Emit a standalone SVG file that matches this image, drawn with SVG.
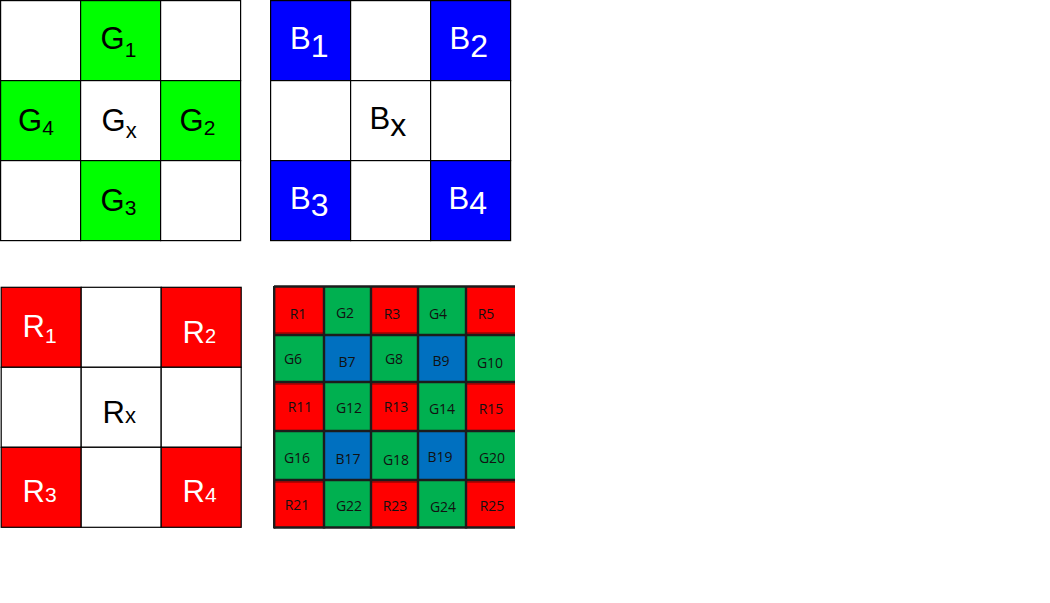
<svg xmlns="http://www.w3.org/2000/svg" width="1050" height="603" viewBox="0 0 1050 603">
<style>
.g{fill:#00FF00}.b{fill:#0000FF}.r{fill:#FF0000}.w{fill:#FFFFFF}
.cell{stroke:#000;stroke-width:1.2}
.lbl{font-family:"Liberation Sans",Arial,sans-serif;font-size:31px}
.dk{fill:#000}.lt{fill:#fff}
.bl{stroke:#1c1c1c;stroke-width:2.4;fill:none}
.bt{font-family:"Open Sans","Noto Sans",sans-serif;font-size:14px;fill:#111;text-anchor:middle}
.rR{fill:#FF0000}.gG{fill:#00B050}.bB{fill:#0070C0}
</style>
<rect x="0" y="0" width="1050" height="603" fill="#fff"/>

<g id="green-panel">
  <g id="g-c00"><rect class="cell w" x="0.6" y="0.6" width="80" height="80"/></g>
  <g id="g-c01"><rect class="cell g" x="80.6" y="0.6" width="80" height="80"/><text class="lbl dk" x="100.5" y="49">G<tspan font-size="21" dy="8">1</tspan></text></g>
  <g id="g-c02"><rect class="cell w" x="160.6" y="0.6" width="80" height="80"/></g>
  <g id="g-c10"><rect class="cell g" x="0.6" y="80.6" width="80" height="80"/><text class="lbl dk" x="18" y="131">G<tspan font-size="21" dy="4">4</tspan></text></g>
  <g id="g-c11"><rect class="cell w" x="80.6" y="80.6" width="80" height="80"/><text class="lbl dk" x="101.5" y="131">G<tspan font-size="22" dy="7">x</tspan></text></g>
  <g id="g-c12"><rect class="cell g" x="160.6" y="80.6" width="80" height="80"/><text class="lbl dk" x="179.5" y="131">G<tspan font-size="21" dy="4">2</tspan></text></g>
  <g id="g-c20"><rect class="cell w" x="0.6" y="160.6" width="80" height="80"/></g>
  <g id="g-c21"><rect class="cell g" x="80.6" y="160.6" width="80" height="80"/><text class="lbl dk" x="100.5" y="211">G<tspan font-size="21" dy="4">3</tspan></text></g>
  <g id="g-c22"><rect class="cell w" x="160.6" y="160.6" width="80" height="80"/></g>
</g>

<g id="blue-panel">
  <g id="b-c00"><rect class="cell b" x="270.6" y="0.6" width="80" height="80"/><text class="lbl lt" x="290" y="48.5">B<tspan font-size="32" dy="8">1</tspan></text></g>
  <g id="b-c01"><rect class="cell w" x="350.6" y="0.6" width="80" height="80"/></g>
  <g id="b-c02"><rect class="cell b" x="430.6" y="0.6" width="80" height="80"/><text class="lbl lt" x="449.5" y="48.5">B<tspan font-size="32" dy="8">2</tspan></text></g>
  <g id="b-c10"><rect class="cell w" x="270.6" y="80.6" width="80" height="80"/></g>
  <g id="b-c11"><rect class="cell w" x="350.6" y="80.6" width="80" height="80"/><text class="lbl dk" x="369.5" y="129.3">B<tspan font-size="32" dy="6.4">x</tspan></text></g>
  <g id="b-c12"><rect class="cell w" x="430.6" y="80.6" width="80" height="80"/></g>
  <g id="b-c20"><rect class="cell b" x="270.6" y="160.6" width="80" height="80"/><text class="lbl lt" x="290" y="208.5">B<tspan font-size="32" dy="7">3</tspan></text></g>
  <g id="b-c21"><rect class="cell w" x="350.6" y="160.6" width="80" height="80"/></g>
  <g id="b-c22"><rect class="cell b" x="430.6" y="160.6" width="80" height="80"/><text class="lbl lt" x="448.5" y="208.5">B<tspan font-size="32" dy="5">4</tspan></text></g>
</g>

<g id="red-panel">
  <g id="r-c00"><rect class="cell r" x="1.2" y="287.3" width="80" height="80"/><text class="lbl lt" x="22.5" y="336.7">R<tspan font-size="21" dy="6.6">1</tspan></text></g>
  <g id="r-c01"><rect class="cell w" x="81.2" y="287.3" width="80" height="80"/></g>
  <g id="r-c02"><rect class="cell r" x="161.2" y="287.3" width="80" height="80"/><text class="lbl lt" x="182.5" y="342.7">R<tspan font-size="20">2</tspan></text></g>
  <g id="r-c10"><rect class="cell w" x="1.2" y="367.3" width="80" height="80"/></g>
  <g id="r-c11"><rect class="cell w" x="81.2" y="367.3" width="80" height="80"/><text class="lbl dk" x="102.5" y="423.3">R<tspan font-size="22">x</tspan></text></g>
  <g id="r-c12"><rect class="cell w" x="161.2" y="367.3" width="80" height="80"/></g>
  <g id="r-c20"><rect class="cell r" x="1.2" y="447.3" width="80" height="80"/><text class="lbl lt" x="22.5" y="501.7">R<tspan font-size="21">3</tspan></text></g>
  <g id="r-c21"><rect class="cell w" x="81.2" y="447.3" width="80" height="80"/></g>
  <g id="r-c22"><rect class="cell r" x="161.2" y="447.3" width="80" height="80"/><text class="lbl lt" x="182.5" y="501.7">R<tspan font-size="21">4</tspan></text></g>
</g>

<g id="bayer-panel">
  <g id="bayer-cells">
    <rect class="rR" x="274" y="286" width="50" height="49"/>
    <rect class="gG" x="324" y="286" width="47" height="49"/>
    <rect class="rR" x="371" y="286" width="47" height="49"/>
    <rect class="gG" x="418" y="286" width="48" height="49"/>
    <rect class="rR" x="466" y="286" width="49" height="49"/>
    <rect class="gG" x="274" y="335" width="50" height="47"/>
    <rect class="bB" x="324" y="335" width="47" height="47"/>
    <rect class="gG" x="371" y="335" width="47" height="47"/>
    <rect class="bB" x="418" y="335" width="48" height="47"/>
    <rect class="gG" x="466" y="335" width="49" height="47"/>
    <rect class="rR" x="274" y="382" width="50" height="49"/>
    <rect class="gG" x="324" y="382" width="47" height="49"/>
    <rect class="rR" x="371" y="382" width="47" height="49"/>
    <rect class="gG" x="418" y="382" width="48" height="49"/>
    <rect class="rR" x="466" y="382" width="49" height="49"/>
    <rect class="gG" x="274" y="431" width="50" height="49"/>
    <rect class="bB" x="324" y="431" width="47" height="49"/>
    <rect class="gG" x="371" y="431" width="47" height="49"/>
    <rect class="bB" x="418" y="431" width="48" height="49"/>
    <rect class="gG" x="466" y="431" width="49" height="49"/>
    <rect class="rR" x="274" y="480" width="50" height="48"/>
    <rect class="gG" x="324" y="480" width="47" height="48"/>
    <rect class="rR" x="371" y="480" width="47" height="48"/>
    <rect class="gG" x="418" y="480" width="48" height="48"/>
    <rect class="rR" x="466" y="480" width="49" height="48"/>
  </g>
  <g id="bayer-shade" fill="#B80000">
    <rect x="274" y="332" width="50" height="2"/>
    <rect x="371" y="332" width="47" height="2"/>
    <rect x="466" y="332" width="49" height="2"/>
    <rect x="274" y="383" width="50" height="2"/>
    <rect x="371" y="383" width="47" height="2"/>
    <rect x="466" y="383" width="49" height="2"/>
    <rect x="274" y="481" width="50" height="2"/>
    <rect x="371" y="481" width="47" height="2"/>
    <rect x="466" y="481" width="49" height="2"/>
  </g>
  <g id="bayer-lines" class="bl">
    <path d="M274,286.5H515M274,335H515M274,382H515M274,431H515M274,480H515M274,527.5H515"/>
    <path d="M274.2,286V528.5M324,286V528.5M371,286V528.5M418,286V528.5M466,286V528.5"/>
  </g>
  <g id="bayer-labels" class="bt">
    <text x="298" y="319">R1</text>
    <text x="345" y="318">G2</text>
    <text x="392" y="319">R3</text>
    <text x="438" y="319">G4</text>
    <text x="486" y="319">R5</text>
    <text x="293" y="364">G6</text>
    <text x="347" y="367">B7</text>
    <text x="394" y="364">G8</text>
    <text x="441" y="366">B9</text>
    <text x="490" y="368">G10</text>
    <text x="300" y="412">R11</text>
    <text x="349" y="413">G12</text>
    <text x="396" y="412">R13</text>
    <text x="442" y="414">G14</text>
    <text x="491" y="414">R15</text>
    <text x="297" y="463">G16</text>
    <text x="348" y="464">B17</text>
    <text x="396" y="465">G18</text>
    <text x="440" y="462">B19</text>
    <text x="492" y="463">G20</text>
    <text x="297" y="510">R21</text>
    <text x="349" y="511">G22</text>
    <text x="395" y="511">R23</text>
    <text x="443" y="512">G24</text>
    <text x="492" y="511">R25</text>
  </g>
</g>
<g id="connectors"/>
</svg>
